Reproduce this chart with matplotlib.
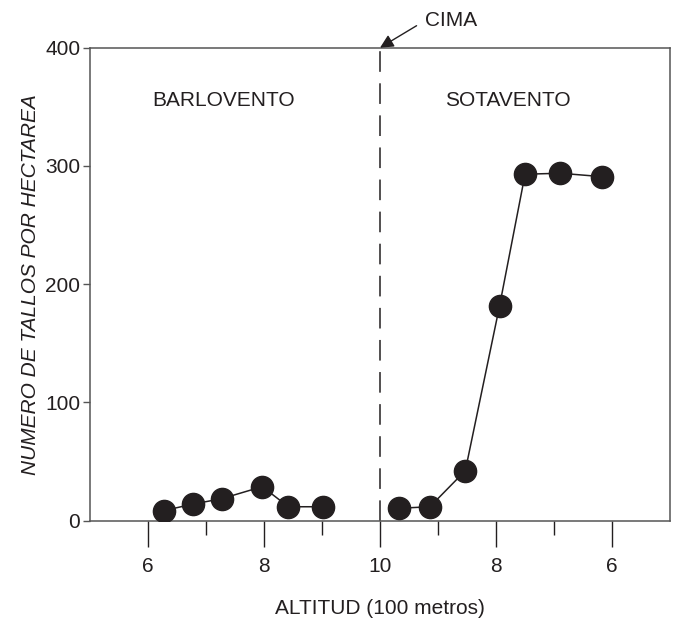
import numpy as np
import matplotlib
matplotlib.use('Agg')
import matplotlib.pyplot as plt

plt.rcParams['font.family'] = ['Liberation Sans', 'DejaVu Sans']
plt.rcParams['font.size'] = 15

# barlovento (windward) side, altitude in 100 m
alt_barlovento = [6.27, 6.77, 7.27, 7.97, 8.42, 9.02]
tallos_barlovento = [8.5, 14, 18.6, 28.8, 11.8, 11.8]

# sotavento (leeward) side, altitude in 100 m
alt_sotavento = [9.68, 9.14, 8.53, 7.94, 7.50, 6.89, 6.17]
tallos_sotavento = [10.5, 11.8, 42.3, 181.6, 293, 293.8, 290.9]

cima = 10
major_ticks = [6, 8, 10, 12, 14]
major_labels = ['6', '8', '10', '8', '6']
minor_ticks = [7, 9, 11, 13]
y_ticks = [0, 100, 200, 300, 400]

ink = '#231f20'
spine_col = '#555555'

# leeward side is mirrored around the summit
x_left = np.array(alt_barlovento)
x_right = 2 * cima - np.array(alt_sotavento)

fig = plt.figure(figsize=(6.73, 6.19), dpi=100)
ax = fig.add_axes([0.1337, 0.1588, 0.862, 0.7642])

ax.plot(x_left, tallos_barlovento, color=ink, lw=1.1, marker='o',
        markersize=16, markerfacecolor=ink, markeredgecolor=ink, zorder=3)
ax.plot(x_right, tallos_sotavento, color=ink, lw=1.1, marker='o',
        markersize=16, markerfacecolor=ink, markeredgecolor=ink, zorder=3)

ax.axvline(cima, color=ink, lw=1.1, linestyle=(0, (13.5, 7.5)), zorder=2)

ax.set_xlim(5, 15)
ax.set_ylim(0, 400)
ax.set_xticks(major_ticks)
ax.set_xticklabels(major_labels)
ax.set_xticks(minor_ticks, minor=True)
ax.set_yticks(y_ticks)

ax.tick_params(axis='x', which='major', length=19, width=1.0, color=ink,
               direction='out', pad=7, labelcolor=ink)
ax.tick_params(axis='x', which='minor', length=10, width=1.0, color=ink,
               direction='out')
ax.tick_params(axis='y', length=5, width=1.0, color=spine_col,
               direction='out', pad=2, labelcolor=ink)

for s in ax.spines.values():
    s.set_color(spine_col)
    s.set_linewidth(1.1)

ax.set_xlabel('ALTITUD (100 metros)', color=ink, labelpad=17)
ax.set_ylabel('NUMERO DE TALLOS POR HECTAREA', color=ink, style='italic',
              labelpad=4)

ax.text(7.3, 355, 'BARLOVENTO', ha='center', va='center', color=ink)
ax.text(12.2, 355, 'SOTAVENTO', ha='center', va='center', color=ink)

ax.annotate('CIMA', xy=(cima, 400), xytext=(10.78, 423),
            textcoords='data', ha='left', va='center', color=ink,
            annotation_clip=False,
            arrowprops=dict(arrowstyle='-|>', color=ink, lw=1.0,
                            mutation_scale=20, shrinkA=5, shrinkB=0,
                            relpos=(0, 0.5)))

fig.savefig('out.png', dpi=100)
